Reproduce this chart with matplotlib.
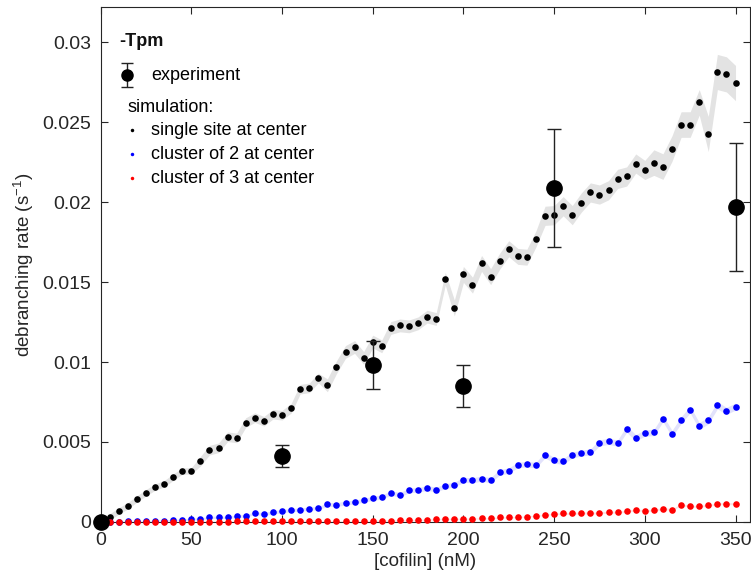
import numpy as np
import matplotlib
matplotlib.use("Agg")
import matplotlib.pyplot as plt

plt.rcParams['font.family'] = ['Liberation Sans', 'DejaVu Sans']
plt.rcParams['mathtext.fontset'] = 'custom'
plt.rcParams['mathtext.rm'] = 'Liberation Sans'

# cofilin concentration for simulations (nM)
conc = np.arange(0, 351, 5)

single = [0, 0.0003, 0.00068, 0.001, 0.00143, 0.00182, 0.00217, 0.00238, 0.00279, 0.00317,
          0.00319, 0.00379, 0.00448, 0.00463, 0.00532, 0.00525, 0.00621, 0.00652, 0.00629, 0.00673,
          0.00667, 0.0071, 0.0083, 0.00838, 0.009, 0.00854, 0.00967, 0.01063, 0.01094, 0.01025,
          0.01128, 0.01098, 0.01213, 0.01229, 0.01223, 0.01242, 0.01284, 0.01269, 0.01521, 0.01338,
          0.01548, 0.01481, 0.01617, 0.01534, 0.01631, 0.01709, 0.01661, 0.01656, 0.01771, 0.01915,
          0.01919, 0.01975, 0.01919, 0.01998, 0.02061, 0.02048, 0.02075, 0.02146, 0.02161, 0.02242,
          0.02202, 0.02248, 0.02223, 0.02336, 0.02486, 0.02486, 0.02625, 0.02427, 0.02815, 0.028,
          0.02746]
single_err = [0, 0.0002, 0.0002, 0.0002, 0.0002, 0.0002, 0.0002, 0.0002, 0.0002, 0.0002,
              0.0002, 0.0003, 0.0003, 0.0003, 0.0003, 0.0003, 0.0003, 0.0003, 0.0003, 0.0003,
              0.0003, 0.0003, 0.0003, 0.0003, 0.0003, 0.0004, 0.0004, 0.0004, 0.0004, 0.0004,
              0.0004, 0.0004, 0.0004, 0.0004, 0.0004, 0.0004, 0.0004, 0.0004, 0.0004, 0.0005,
              0.0005, 0.0005, 0.0005, 0.0005, 0.0005, 0.0005, 0.0005, 0.0005, 0.0005, 0.0006,
              0.0006, 0.0006, 0.0006, 0.0006, 0.0006, 0.0006, 0.0006, 0.0006, 0.0006, 0.0006,
              0.0006, 0.0008, 0.0008, 0.0008, 0.0008, 0.0008, 0.0008, 0.0011, 0.0011, 0.0011,
              0.0011]

cluster2 = [0, 0, 0.00001, 0.00002, 0.00002, 0.00004, 0.00006, 0.00008, 0.0001, 0.00012,
            0.00017, 0.00019, 0.00027, 0.00029, 0.00027, 0.00035, 0.00037, 0.00054, 0.00048, 0.0006,
            0.00066, 0.00074, 0.00076, 0.00083, 0.00085, 0.00109, 0.00107, 0.00118, 0.00124, 0.00134,
            0.00147, 0.00155, 0.0018, 0.00169, 0.00196, 0.002, 0.00211, 0.00202, 0.00223, 0.00233,
            0.00262, 0.0026, 0.0027, 0.0026, 0.0031, 0.0032, 0.00356, 0.0036, 0.00355, 0.00418,
            0.00384, 0.00378, 0.00418, 0.0043, 0.00437, 0.00494, 0.00503, 0.00493, 0.0058, 0.00525,
            0.00556, 0.00559, 0.00646, 0.00552, 0.00636, 0.00702, 0.006, 0.00634, 0.00729, 0.00694,
            0.00721]
cluster2_err = [0, 0.00003, 0.00003, 0.00003, 0.00003, 0.00004, 0.00004, 0.00005, 0.00005, 0.00005,
                0.00006, 0.00006, 0.00007, 0.00007, 0.00007, 0.00008, 0.00008, 0.00009, 0.00009, 0.0001,
                0.0001, 0.0001, 0.0001, 0.0001, 0.0001, 0.00012, 0.00012, 0.00012, 0.00012, 0.00012,
                0.00013, 0.00013, 0.00014, 0.00014, 0.00014, 0.00014, 0.00015, 0.00015, 0.00015, 0.00015,
                0.00016, 0.00016, 0.00016, 0.00016, 0.00017, 0.00017, 0.00017, 0.00017, 0.00017, 0.00018,
                0.00018, 0.00018, 0.00018, 0.00018, 0.00019, 0.00019, 0.00019, 0.00019, 0.0002, 0.0002,
                0.0002, 0.0002, 0.0002, 0.0002, 0.00021, 0.00021, 0.00021, 0.00022, 0.00022, 0.00022,
                0.00022]

cluster3 = [0, 0, 0, 0, 0, 0, 0, 0, 0, 0,
            0, 0.00001, 0.00001, 0.00001, 0.00001, 0.00002, 0.00002, 0.00002, 0.00002, 0.00003,
            0.00003, 0.00003, 0.00003, 0.00004, 0.00004, 0.00004, 0.00005, 0.00005, 0.00005, 0.00006,
            0.00006, 0.00007, 0.00008, 0.00009, 0.0001, 0.00012, 0.00014, 0.00016, 0.00019, 0.00018,
            0.00019, 0.0002, 0.00021, 0.00022, 0.00027, 0.00028, 0.0003, 0.00033, 0.00037, 0.00043,
            0.0005, 0.00052, 0.00052, 0.00056, 0.00054, 0.00056, 0.0006, 0.0006, 0.00066, 0.00074,
            0.0007, 0.00072, 0.00083, 0.00076, 0.00107, 0.00097, 0.00097, 0.00103, 0.00112, 0.00114,
            0.00112]
cluster3_err = [0] * 11 + [0.00002] * 20 + [0.00004] * 20 + [0.00006] * 20

# experiment
exp_conc = [0, 100, 150, 200, 250, 350]
exp_rate = [0, 0.0041, 0.0098, 0.0085, 0.0209, 0.0197]
exp_err = [0, 0.0007, 0.0015, 0.0013, 0.0037, 0.004]

fig = plt.figure(figsize=(7.51, 5.83), dpi=100)
ax = fig.add_axes([0.134, 0.105, 0.8647, 0.8825])

series = [(single, single_err, 'k', '#e3e3e3'),
          (cluster2, cluster2_err, 'b', '#e2e2fb'),
          (cluster3, cluster3_err, 'r', '#fbe2e2')]
for vals, err, col, band in series:
    vals = np.array(vals)
    err = np.array(err)
    ax.fill_between(conc, vals - err, vals + err, color=band, lw=0, zorder=1)

for vals, err, col, band in series:
    ax.plot(conc, vals, '.', color=col, ms=9.5, mew=0, zorder=3, clip_on=False)

ax.errorbar(exp_conc, exp_rate, yerr=exp_err, fmt='o', color='k', ms=11,
            ecolor='#222222', elinewidth=1, capsize=5, capthick=1, zorder=5, clip_on=False)

ax.set_xlim(0, 358)
ax.set_ylim(0, 0.0322)
ax.set_xticks([0, 50, 100, 150, 200, 250, 300, 350])
ax.set_yticks([0, 0.005, 0.01, 0.015, 0.02, 0.025, 0.03])
ax.set_yticklabels(['0', '0.005', '0.01', '0.015', '0.02', '0.025', '0.03'])
ax.tick_params(direction='in', top=True, right=True, length=5, width=0.8,
               labelsize=14, colors='#262626', pad=7)
for s in ax.spines.values():
    s.set_color('#262626')
    s.set_linewidth(0.8)

ax.set_xlabel('[cofilin] (nM)', fontsize=13.5, color='#262626', labelpad=3)
ax.set_ylabel('debranching rate (s$^{\\mathrm{-1}}$)', fontsize=13.5, color='#262626', labelpad=4)

# legend drawn by hand
def ax_pos(px, py):
    return (px - 100.7) / (750 - 100.7), (521.7 - py) / (521.7 - 7.3)

tx, ty = ax_pos(119, 42)
ax.text(tx, ty, '-Tpm', transform=ax.transAxes, fontsize=13, fontweight='bold',
        va='center', ha='left', color='#111111')
mx, my = ax_pos(127.5, 75)
ax.errorbar([mx], [my], yerr=[0.024], fmt='o', color='k', ms=8, ecolor='#222222',
            elinewidth=1, capsize=4, capthick=1, transform=ax.transAxes, clip_on=False, zorder=6)
tx, ty = ax_pos(151.5, 75)
ax.text(tx, ty, 'experiment', transform=ax.transAxes, fontsize=13, va='center', ha='left')
tx, ty = ax_pos(128, 107)
ax.text(tx, ty, 'simulation:', transform=ax.transAxes, fontsize=13, va='center', ha='left')
labels = ['single site at center', 'cluster of 2 at center', 'cluster of 3 at center']
colors = ['k', 'b', 'r']
for i, (lab, col) in enumerate(zip(labels, colors)):
    py = 130 + i * 24
    dx, dy = ax_pos(132, py)
    ax.plot([dx], [dy], '.', color=col, ms=5, mew=0, transform=ax.transAxes, clip_on=False)
    tx, ty = ax_pos(151.5, py)
    ax.text(tx, ty, lab, transform=ax.transAxes, fontsize=13, va='center', ha='left')

fig.savefig('out.png', dpi=100)
